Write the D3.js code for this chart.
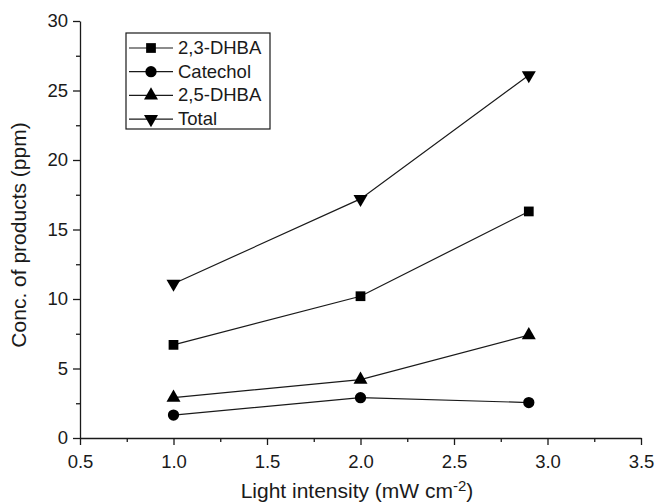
<!DOCTYPE html>
<html>
<head>
<meta charset="utf-8">
<script src="https://cdn.jsdelivr.net/npm/d3@7"></script>
<style>
  body { margin: 0; background: #fff; }
  text { font-family: "Liberation Sans", Arial, sans-serif; fill: #1a1a1a; }
</style>
</head>
<body>
<script>
// values
const intensity = [1.0, 2.0, 2.9];
const dhba23 = [6.7, 10.2, 16.3];
const catechol = [1.65, 2.9, 2.55];
const dhba25 = [2.9, 4.2, 7.4];
const total = [11.1, 17.2, 26.1];

const seriesNames = ['2,3-DHBA', 'Catechol', '2,5-DHBA', 'Total'];
const seriesValues = [dhba23, catechol, dhba25, total];
const seriesSymbols = [d3.symbolSquare, d3.symbolCircle, d3.symbolTriangle, 'down'];

const xTicks = [0.5, 1.0, 1.5, 2.0, 2.5, 3.0, 3.5];
const yTicks = [0, 5, 10, 15, 20, 25, 30];

const SIZE = { width: 657, height: 504, left: 80, right: 641, top: 21, bottom: 438 };

const svg = d3.select('body').append('svg')
    .attr('width', SIZE.width)
    .attr('height', SIZE.height);

const x = d3.scaleLinear().domain([0.5, 3.5]).range([SIZE.left, SIZE.right]);
const y = d3.scaleLinear().domain([0, 30]).range([SIZE.bottom, SIZE.top]);

// minor ticks first
const xMinor = d3.range(0.75, 3.5, 0.5);
const yMinor = d3.range(2.5, 30, 5);

svg.append('g')
    .attr('transform', `translate(0,${SIZE.bottom})`)
    .call(d3.axisBottom(x).tickValues(xMinor).tickSize(4).tickFormat(''))
    .call(g => g.select('.domain').remove());
svg.append('g')
    .attr('transform', `translate(${SIZE.left},0)`)
    .call(d3.axisLeft(y).tickValues(yMinor).tickSize(4).tickFormat(''))
    .call(g => g.select('.domain').remove());

const xAxis = svg.append('g')
    .attr('transform', `translate(0,${SIZE.bottom})`)
    .call(d3.axisBottom(x).tickValues(xTicks).tickSize(7).tickSizeOuter(0)
        .tickPadding(10).tickFormat(d3.format('.1f')));
const yAxis = svg.append('g')
    .attr('transform', `translate(${SIZE.left},0)`)
    .call(d3.axisLeft(y).tickValues(yTicks).tickSize(7).tickSizeOuter(0)
        .tickPadding(5).tickFormat(d3.format('d')));

svg.selectAll('.domain, .tick line').attr('stroke', '#1a1a1a').attr('stroke-width', 1.3);
svg.selectAll('.tick text').style('font-size', '18.5px').attr('fill', '#1a1a1a')
    .style('font-family', '"Liberation Sans", Arial, sans-serif');

// axis titles
const xTitle = svg.append('text')
    .attr('x', 357)
    .attr('y', 498)
    .attr('text-anchor', 'middle')
    .style('font-size', '21px');
xTitle.append('tspan').text('Light intensity (mW cm');
xTitle.append('tspan').attr('dy', -7).style('font-size', '15px').text('-2');
xTitle.append('tspan').attr('dy', 7).text(')');

svg.append('text')
    .attr('transform', 'translate(26,235) rotate(-90)')
    .attr('text-anchor', 'middle')
    .style('font-size', '21px')
    .text('Conc. of products (ppm)');

// lines and markers
const line = d3.line()
    .x((d, i) => x(intensity[i]))
    .y(d => y(d));

function marker(sym, size) {
    if (sym === 'down') {
        return d3.symbol().type(d3.symbolTriangle).size(size)();
    }
    return d3.symbol().type(sym).size(size)();
}
const markerSize = [95, 100, 85, 85];

seriesValues.forEach((vals, s) => {
    svg.append('path')
        .datum(vals)
        .attr('d', line)
        .attr('fill', 'none')
        .attr('stroke', '#1a1a1a')
        .attr('stroke-width', 1.2);

    svg.selectAll(null)
        .data(vals)
        .enter().append('path')
        .attr('d', marker(seriesSymbols[s], markerSize[s]))
        .attr('transform', (d, i) => `translate(${x(intensity[i])},${y(d)})` +
            (seriesSymbols[s] === 'down' ? ' rotate(180)' : ''))
        .attr('fill', '#000');
});

// legend
const legend = svg.append('g');
legend.append('rect')
    .attr('x', 126).attr('y', 33)
    .attr('width', 144).attr('height', 96)
    .attr('fill', 'none')
    .attr('stroke', '#1a1a1a')
    .attr('stroke-width', 1.2);

seriesNames.forEach((name, s) => {
    const ry = 48 + s * 23.7;
    legend.append('line')
        .attr('x1', 129).attr('x2', 173)
        .attr('y1', ry).attr('y2', ry)
        .attr('stroke', '#1a1a1a').attr('stroke-width', 1.2);
    legend.append('path')
        .attr('d', marker(seriesSymbols[s], markerSize[s]))
        .attr('transform', `translate(151,${ry})` + (seriesSymbols[s] === 'down' ? ' rotate(180)' : ''))
        .attr('fill', '#000');
    legend.append('text')
        .attr('x', 178).attr('y', ry + 6)
        .style('font-size', '18.5px')
        .text(name);
});
</script>
</body>
</html>
